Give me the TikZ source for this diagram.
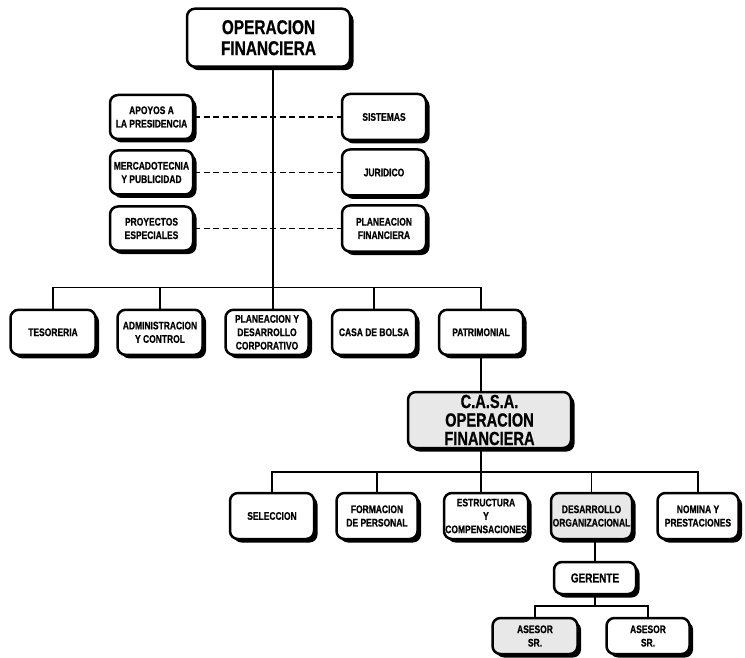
\documentclass[tikz,border=0pt]{standalone}
\usepackage{fontspec}
\newfontfamily\chartfont{Liberation Sans Bold}[FakeStretch=0.77, FakeBold=0.6]
\usetikzlibrary{shadows}

\tikzset{
  box/.style={draw=black, line width=2.5pt, rounded corners=8pt, fill=white,
    align=center, inner sep=1pt,
    font=\chartfont\fontsize{11}{13.4}\selectfont,
    drop shadow={shadow xshift=3.5pt, shadow yshift=-3.5pt, opacity=1, fill=black}},
  speckled/.style={fill=black!9},
  sz/.style 2 args={minimum width=#1pt, minimum height=#2pt},
  bigtext/.style={font=\chartfont\fontsize{20}{21}\selectfont},
  link/.style={line width=1.8pt},
  dashlink/.style={line width=1.5pt, dash pattern=on 6pt off 3.5pt},
}

\begin{document}
\begin{tikzpicture}[x=1pt, y=-1pt]
  \fill[white] (0,0) rectangle (745,658);
  \useasboundingbox (0,0) rectangle (745,658);

  % level coordinates
  \coordinate (axis) at (273,0);
  \coordinate (lvl2) at (0,287.5);
  \coordinate (lvl3) at (0,472);
  \coordinate (lvl4) at (0,606);

  % head office
  \node[box, sz={163}{58}, bigtext] (top) at (268.5,37.7) {OPERACION\\FINANCIERA};

  % staff units
  \node[box, sz={83}{44}] (apoyos) at (151.5,117)   {APOYOS A\\LA PRESIDENCIA};
  \node[box, sz={83}{44}] (merca)  at (151.5,172.5) {MERCADOTECNIA\\Y PUBLICIDAD};
  \node[box, sz={83}{44}] (proy)   at (151.5,228.5) {PROYECTOS\\ESPECIALES};
  \node[box, sz={84}{46}] (sist)   at (384,117)     {SISTEMAS};
  \node[box, sz={84}{46}] (jur)    at (384,172.5)   {JURIDICO};
  \node[box, sz={84}{46}] (planf)  at (384,228.5)   {PLANEACION\\FINANCIERA};

  % second level
  \node[box, sz={85}{45}] (tes)   at (53,332.3)  {TESORERIA};
  \node[box, sz={85}{45}] (adm)   at (160,332.3) {ADMINISTRACION\\Y CONTROL};
  \node[box, sz={83}{45}] (plan)  at (267,332.3) {PLANEACION Y\\DESARROLLO\\CORPORATIVO};
  \node[box, sz={84}{45}] (casab) at (374,332.3) {CASA DE BOLSA};
  \node[box, sz={84}{45}] (pat)   at (481,332.3) {PATRIMONIAL};

  % C.A.S.A.
  \node[box, speckled, sz={163}{56}, inner sep=0pt,
        font=\chartfont\fontsize{19}{18.5}\selectfont]
    (casa) at (489.5,420) {C.A.S.A.\\OPERACION\\FINANCIERA};

  % third level
  \node[box, sz={84}{46}] (sel)  at (272,516)   {SELECCION};
  \node[box, sz={81}{46}] (form) at (377,516)   {FORMACION\\DE PERSONAL};
  \node[box, sz={84}{46}] (estr) at (486,516)   {ESTRUCTURA\\Y\\COMPENSACIONES};
  \node[box, speckled, sz={81}{46}] (desa) at (591.5,516) {DESARROLLO\\ORGANIZACIONAL};
  \node[box, sz={81}{46}] (nom)  at (698,516)   {NOMINA Y\\PRESTACIONES};

  % management
  \node[box, sz={82}{32}, font=\chartfont\fontsize{13}{14}\selectfont] (ger) at (595,578) {GERENTE};
  \node[box, speckled, sz={85}{36}] (as1) at (535,636) {ASESOR\\SR.};
  \node[box, sz={83}{36}] (as2) at (648,636) {ASESOR\\SR.};

  % staff links
  \draw[dashlink] (apoyos.east) -- (sist.west);
  \draw[dashlink] (merca.east) -- (jur.west);
  \draw[dashlink] (proy.east) -- (planf.west);

  % main trunk and second level
  \draw[link] (axis |- top.south) -- (axis |- plan.north);
  \draw[link] (tes.north) -- (tes.north |- lvl2) -- (pat.north |- lvl2) -- (pat.north);
  \draw[link] (adm.north) -- (adm.north |- lvl2);
  \draw[link] (casab.north) -- (casab.north |- lvl2);

  % C.A.S.A. branch
  \draw[link] (pat.south) -- (pat.south |- casa.north);
  \draw[link] (pat.south |- casa.south) -- (pat.south |- estr.north);
  \draw[link] (sel.north) -- (sel.north |- lvl3) -- (nom.north |- lvl3) -- (nom.north);
  \draw[link] (form.north) -- (form.north |- lvl3);
  \draw[link] (desa.north) -- (desa.north |- lvl3);

  % management branch
  \draw[link] (ger.north |- desa.south) -- (ger.north);
  \draw[link] (ger.south) -- (ger.south |- lvl4);
  \draw[link] (as1.north) -- (as1.north |- lvl4) -- (as2.north |- lvl4) -- (as2.north);
\end{tikzpicture}
\end{document}
